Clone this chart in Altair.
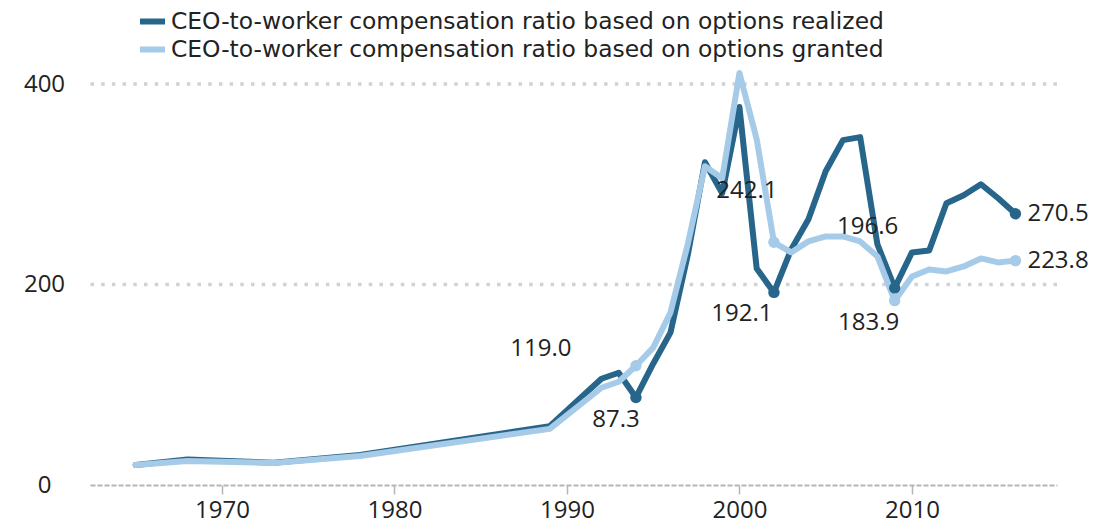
import altair as alt
import pandas as pd

# ---- data ----
years = [1965, 1968, 1973, 1978, 1989, 1992, 1993, 1994, 1995, 1996, 1997, 1998,
         1999, 2000, 2001, 2002, 2003, 2004, 2005, 2006, 2007, 2008, 2009, 2010,
         2011, 2012, 2013, 2014, 2015, 2016]
realized = [20.0, 25.5, 22.3, 29.9, 58.7, 106, 112, 87.3, 121, 152, 229, 322,
            291, 377, 216, 192.1, 235, 265, 313, 344, 347, 240, 196.6, 232,
            234, 281, 289, 300, 286, 270.5]
granted = [20.0, 24.0, 22.0, 29.0, 56.0, 97, 103, 119.0, 137, 172, 240, 318,
           306, 411, 345, 242.1, 232, 243, 248, 248, 243, 228, 183.9, 208,
           215, 213, 218, 226, 222, 223.8]

series_names = ["CEO-to-worker compensation ratio based on options realized",
                "CEO-to-worker compensation ratio based on options granted"]
series_colors = ["#27668a", "#a6cbe8"]

x_ticks = [1970, 1980, 1990, 2000, 2010]
y_ticks = [0, 200, 400]
grid_values = [200, 400]

# labelled points: series index, year, text
label_series = [1, 0, 1, 0, 0, 1, 0, 1]
label_years = [1994, 1994, 2002, 2002, 2009, 2009, 2016, 2016]
label_texts = ["119.0", "87.3", "242.1", "192.1", "196.6", "183.9", "270.5", "223.8"]
# style offsets (pixels)
label_dx = [-95, -20, -27, -32, -27, -26, 12, 12]
label_dy = [-17, 23, -51, 22, -61, 22, 0, 0]
label_align = ["center"] * 6 + ["left", "left"]

FONT = "Open Sans"
LEG_FONT = "DejaVu Sans"
TXT = "#222222"

rows = []
for i, y in enumerate(years):
    rows.append({"year": y, "value": realized[i], "series": series_names[0]})
    rows.append({"year": y, "value": granted[i], "series": series_names[1]})
df = pd.DataFrame(rows)

vals = {0: dict(zip(years, realized)), 1: dict(zip(years, granted))}
pts = pd.DataFrame({
    "year": label_years,
    "value": [vals[s][yr] for s, yr in zip(label_series, label_years)],
    "series": [series_names[s] for s in label_series],
    "text": label_texts,
})

xscale = alt.Scale(domain=[1962.35, 2018.41], nice=False, zero=False)
yscale = alt.Scale(domain=[0, 400], nice=False)
cscale = alt.Scale(domain=series_names, range=series_colors)

axis_x = alt.Axis(values=x_ticks, format="d", title=None, grid=False,
                  domainColor="#b5b5b5", domainWidth=2, domainDash=[5, 2],
                  tickColor="#b5b5b5", tickWidth=1.5, tickSize=9,
                  labelFont=FONT, labelFontSize=24, labelColor=TXT,
                  labelPadding=4)
axis_y = alt.Axis(values=y_ticks, title=None, grid=False, domain=False,
                  ticks=False, labelFont=FONT, labelFontSize=24,
                  labelColor=TXT, labelAlign="center", labelPadding=46,
                  labelBaseline="middle")

grid = alt.Chart(pd.DataFrame({"g": grid_values})).mark_rule(
    color="#d2d2d2", strokeWidth=3.5, strokeDash=[3.5, 7.2]
).encode(y=alt.Y("g:Q", scale=yscale, axis=axis_y))

lines = []
for k in [0, 1]:
    lines.append(
        alt.Chart(df[df.series == series_names[k]]).mark_line(
            strokeWidth=6, strokeCap="round", strokeJoin="round"
        ).encode(
            x=alt.X("year:Q", scale=xscale, axis=axis_x),
            y=alt.Y("value:Q", scale=yscale, axis=axis_y),
            color=alt.Color("series:N", scale=cscale, legend=alt.Legend(
                title=None, orient="none", legendX=47, legendY=-78,
                symbolType="stroke", symbolStrokeWidth=6, symbolSize=625,
                labelFont=LEG_FONT, labelFontSize=23.4, labelColor=TXT,
                labelLimit=1000, rowPadding=-10, labelOffset=3, padding=0)),
        )
    )

dots = alt.Chart(pts).mark_circle(size=130, opacity=1).encode(
    x=alt.X("year:Q", scale=xscale),
    y=alt.Y("value:Q", scale=yscale),
    color=alt.Color("series:N", scale=cscale, legend=None),
)

texts = []
for i in range(len(label_texts)):
    texts.append(
        alt.Chart(pts.iloc[[i]]).mark_text(
            dx=label_dx[i], dy=label_dy[i], align=label_align[i],
            baseline="middle", font=FONT, fontSize=24, color=TXT
        ).encode(
            x=alt.X("year:Q", scale=xscale),
            y=alt.Y("value:Q", scale=yscale),
            text="text:N",
        )
    )

chart = alt.layer(grid, *lines, dots, *texts).properties(
    width=967, height=401,
    autosize=alt.AutoSizeParams(type="none"),
    padding={"left": 90, "top": 84, "right": 43, "bottom": 43},
    background="white",
).configure_view(stroke=None)

chart.save("out.html", embed_options={"renderer": "svg", "actions": False})
